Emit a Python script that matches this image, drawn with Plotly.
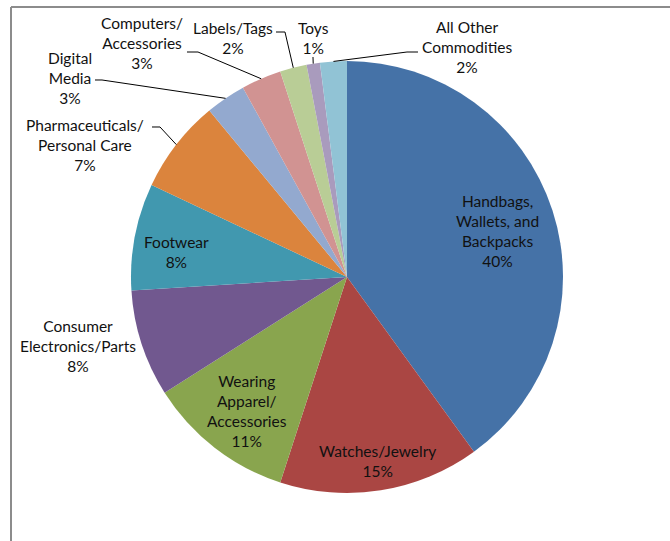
import math
import plotly.graph_objects as go

# ---- data ----
categories = [
    "Handbags,<br>Wallets, and<br>Backpacks",
    "Watches/Jewelry",
    "Wearing<br>Apparel/<br>Accessories",
    "Consumer<br>Electronics/Parts",
    "Footwear",
    "Pharmaceuticals/<br>Personal Care",
    "Digital<br>Media",
    "Computers/<br>Accessories",
    "Labels/Tags",
    "Toys",
    "All Other<br>Commodities",
]
shares = [40, 15, 11, 8, 8, 7, 3, 3, 2, 1, 2]
colors = ["#4572A7", "#AA4643", "#89A54E", "#71588F", "#4198AF", "#DB843D",
          "#93A9CF", "#D19392", "#B9CD96", "#A99BBD", "#91C3D5"]

# ---- layout (pixels) ----
W, H = 670, 541
CX, CY, R = 347, 277, 216

# label block centers (pixels)
label_pos = [(497, 231), (377, 461), (247, 411), (78, 346), (176, 252), (85, 145),
             (70, 78), (142, 43), (233, 38), (313, 38), (467, 47)]
# leader line start points (label side), None = no leader
leader_start = [None, None, None, None, None,
                [(152, 127), (160, 127)],
                [(95, 80), (102, 80)],
                [(187, 52), (198, 52)],
                [(276, 32), (285, 32)],
                [(313, 57)],
                [(418, 52), (407, 52)]]


def px(x):
    return x / W


def py(y):
    return 1 - y / H


fig = go.Figure(go.Pie(
    labels=[c.replace("<br>", " ") for c in categories],
    values=shares,
    sort=False,
    direction="clockwise",
    rotation=0,
    textinfo="none",
    hoverinfo="label+percent",
    marker=dict(colors=colors, line=dict(width=0)),
    domain=dict(x=[px(CX - R), px(CX + R)], y=[py(CY + R), py(CY - R)]),
    showlegend=False,
))

annotations = []
shapes = []
total = sum(shares)
cum = 0
for i, (cat, v) in enumerate(zip(categories, shares)):
    mid = (cum + v / 2) / total * 2 * math.pi
    cum += v
    lx, ly = label_pos[i]
    annotations.append(dict(
        x=px(lx), y=py(ly), xref="paper", yref="paper",
        text=f"{cat}<br>{round(v / total * 100)}%",
        showarrow=False, xanchor="center", yanchor="middle",
        font=dict(family="Lato, Open Sans, sans-serif", size=15.5, color="#111111"),
    ))
    if leader_start[i]:
        ex = CX + R * math.sin(mid)
        ey = CY - R * math.cos(mid)
        pts = leader_start[i] + [(ex, ey)]
        path = "M " + " L ".join(f"{px(a):.5f},{py(b):.5f}" for a, b in pts)
        shapes.append(dict(type="path", path=path, xref="paper", yref="paper",
                           line=dict(color="black", width=1)))

# frame lines
shapes.append(dict(type="line", xref="paper", yref="paper", x0=px(11), x1=px(W), y0=py(7), y1=py(7),
                   line=dict(color="#8c8c8c", width=2)))
shapes.append(dict(type="line", xref="paper", yref="paper", x0=px(11), x1=px(11), y0=py(7), y1=py(H),
                   line=dict(color="#8c8c8c", width=2)))

fig.update_layout(
    width=W, height=H,
    margin=dict(l=0, r=0, t=0, b=0, pad=0),
    paper_bgcolor="white", plot_bgcolor="white",
    annotations=annotations, shapes=shapes,
)

fig.write_html("out.html")
